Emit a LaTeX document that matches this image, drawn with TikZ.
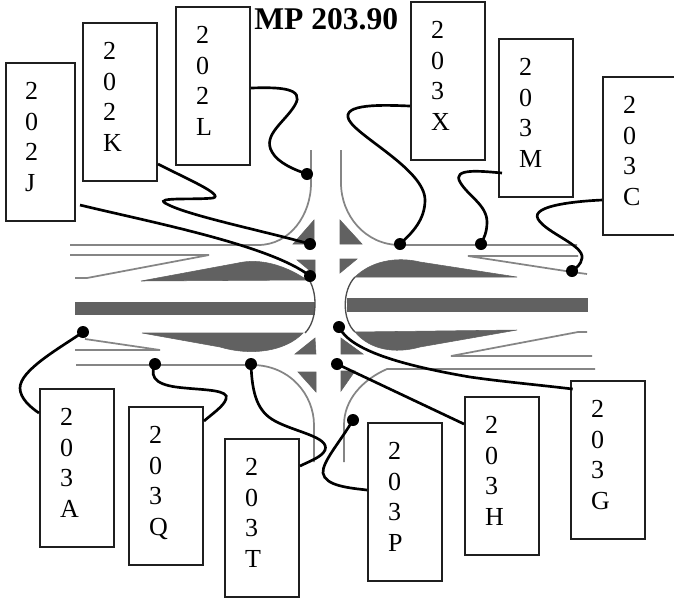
\documentclass[tikz,border=0pt]{standalone}
\usepackage{fontspec}
\setmainfont{Liberation Serif}
\tikzset{
  x=0.75pt,y=-0.75pt,
  lbl/.style n args={3}{draw=black!88,line width=1.5pt,fill=white,anchor=north west,rectangle,
    inner ysep=0pt,inner xsep=#2*0.75pt,text width=(#1-2*#2)*0.75pt,align=left,
    text height=27.4pt,text depth=(#3-36.5)*0.75pt,
    font=\fontsize{19.5pt}{23pt}\selectfont},
  wbox/.style={lbl={74}{20}{158}},
  nbox/.style={lbl={69}{19}{158}},
  road/.style={draw=black!48,line width=1.3pt},
  paved/.style={fill=black!62,draw=black!62,line width=0.4pt},
  lead/.style={draw=black,line width=2pt},
  pin/.style={circle,fill=black,inner sep=0pt,minimum size=9pt},
  ttl/.style={font=\fontsize{23.7pt}{26pt}\selectfont\bfseries,inner sep=0pt,anchor=base west},
  dy/.style={yshift=#1*-0.75pt}
}
\begin{document}
\begin{tikzpicture}
\useasboundingbox (0,0) rectangle (674,597);
\fill[white] (0,0) rectangle (674,597);
% roads
\draw[road] (70,245) -- (258,245) .. controls (290,245) and (311,215) .. (311,183) -- (311,150);
\draw[road] (70,255) -- (209,255) -- (87,278) -- (75,278);
\draw[road] (341,150) -- (341,183) .. controls (341,215) and (365,245) .. (400,245) -- (577,245);
\draw[road] (578,256) -- (468,256) -- (572,272) -- (587,274);
\draw[road] (85,339) -- (160,350) -- (75,350);
\draw[road] (76,365) -- (252,365) .. controls (290,365) and (314,395) .. (314,425) -- (314,462);
\draw[road] (592,356) -- (451,356) -- (578,332) -- (587,332);
\draw[road] (595,369) -- (387,369) .. controls (362,380) and (344,400) .. (344,425) -- (344,462);
% paved areas
\draw[paved] (141,281) -- (238,263) .. controls (260,258) and (285,265) .. (307,280) -- cycle;
\draw[paved] (142,333) -- (220,347) .. controls (250,356) and (285,352) .. (303,333) -- cycle;
\draw[paved] (75,302) -- (314,302) -- (314,314) -- (75,314) -- cycle;
\draw[paved] (517,277) -- (420,262) .. controls (395,256) and (370,262) .. (355,277) -- cycle;
\draw[paved] (517,330) -- (420,347) .. controls (395,354) and (370,350) .. (355,332) -- cycle;
\draw[paved] (347,298) -- (587,298) -- (587,311) -- (347,311) -- cycle;
\draw[black!70,line width=1pt] (307,277) .. controls (318,290) and (318,320) .. (305,333);
\draw[black!70,line width=1pt] (355,277) .. controls (342,290) and (342,320) .. (355,332);
\draw[paved] (314,220) -- (293,244) -- (314,244) -- cycle;
\draw[paved] (297,260) -- (315,260) -- (315,275) -- cycle;
\draw[paved] (315,338) -- (295,354) -- (316,354) -- cycle;
\draw[paved] (298,372) -- (316,372) -- (316,392) -- cycle;
\draw[paved] (340,220) -- (340,244) -- (362,244) -- cycle;
\draw[paved] (340,259) -- (357,259) -- (340,273) -- cycle;
\draw[paved] (341,338) -- (341,354) -- (363,354) -- cycle;
\draw[paved] (341,371) -- (355,371) -- (341,391) -- cycle;
% title
\node[ttl] (title) at (254,29) {MP 203.90};
% boxes
\node[nbox] (j) at (5,62) {2\\0\\2\\J};
\node[wbox] (k) at (82,22) {2\\0\\2\\K};
\node[wbox] (l) at (175,6) {2\\0\\2\\L};
\node[wbox] (x) at (410,1) {2\\0\\3\\X};
\node[wbox] (m) at (498,38) {2\\0\\3\\M};
\node[wbox] (c) at (602,76) {2\\0\\3\\C};
\node[wbox] (a) at (39,388) {2\\0\\3\\A};
\node[wbox] (q) at (128,406) {2\\0\\3\\Q};
\node[wbox] (t) at (224,438) {2\\0\\3\\T};
\node[wbox] (p) at (367,422) {2\\0\\3\\P};
\node[wbox] (h) at (464,396) {2\\0\\3\\H};
\node[wbox] (g) at (570,380) {2\\0\\3\\G};
% pins
\node[pin] (pl) at (307,174) {};
\node[pin] (pk) at (310,244) {};
\node[pin] (pj) at (310,276) {};
\node[pin] (px) at (400,244) {};
\node[pin] (pm) at (481,244) {};
\node[pin] (pc) at (572,271) {};
\node[pin] (pa) at (83,332) {};
\node[pin] (pq) at (155,364) {};
\node[pin] (pt) at (251,364) {};
\node[pin] (pp) at (353,420) {};
\node[pin] (ph) at (337,364) {};
\node[pin] (pg) at (339,327) {};
% leaders
\draw[lead] ([dy=2]l.east) .. controls (280,87) and (305,88) .. (295,105) .. controls (285,122) and (262,135) .. (272,152) .. controls (278,163) and (295,170) .. (pl.center);
\draw[lead] ([dy=62]k.east) .. controls (185,178) and (225,195) .. (213,198) .. controls (195,200) and (155,197) .. (165,203) .. controls (185,215) and (260,230) .. (pk.center);
\draw[lead] ([dy=63,xshift=3pt]j.east) .. controls (150,222) and (270,245) .. (pj.center);
\draw[lead] ([dy=25]x.west) .. controls (385,105) and (340,103) .. (349,120) .. controls (358,137) and (425,170) .. (425,200) .. controls (425,220) and (412,233) .. (px.center);
\draw[lead] ([dy=55,xshift=3pt]m.west) .. controls (480,171) and (452,168) .. (460,182) .. controls (468,196) and (487,205) .. (487,222) .. controls (487,232) and (484,238) .. (pm.center);
\draw[lead] ([dy=44]c.west) .. controls (580,201) and (530,205) .. (538,219) .. controls (546,233) and (584,245) .. (582,258) .. controls (581,265) and (576,268) .. (pc.center);
\draw[lead] (pa.center) .. controls (60,348) and (20,370) .. (20,388) .. controls (20,398) and (30,407) .. ([dy=-55]a.west);
\draw[lead] (pq.center) .. controls (148,380) and (160,386) .. (185,388) .. controls (205,390) and (230,390) .. (226,399) .. controls (224,406) and (212,414) .. ([dy=-65]q.east);
\draw[lead] (pt.center) .. controls (252,395) and (258,412) .. (275,421) .. controls (295,432) and (330,437) .. (325,450) .. controls (322,457) and (310,461) .. ([dy=-52]t.east);
\draw[lead] (pp.center) .. controls (340,442) and (322,462) .. (323,473) .. controls (325,486) and (350,488) .. ([dy=-12]p.west);
\draw[lead] (ph.center) -- ([dy=-52]h.west);
\draw[lead] (pg.center) .. controls (350,350) and (400,365) .. (470,377) .. controls (505,382) and (540,385) .. ([dy=-71,xshift=2pt]g.west);
\end{tikzpicture}
\end{document}
